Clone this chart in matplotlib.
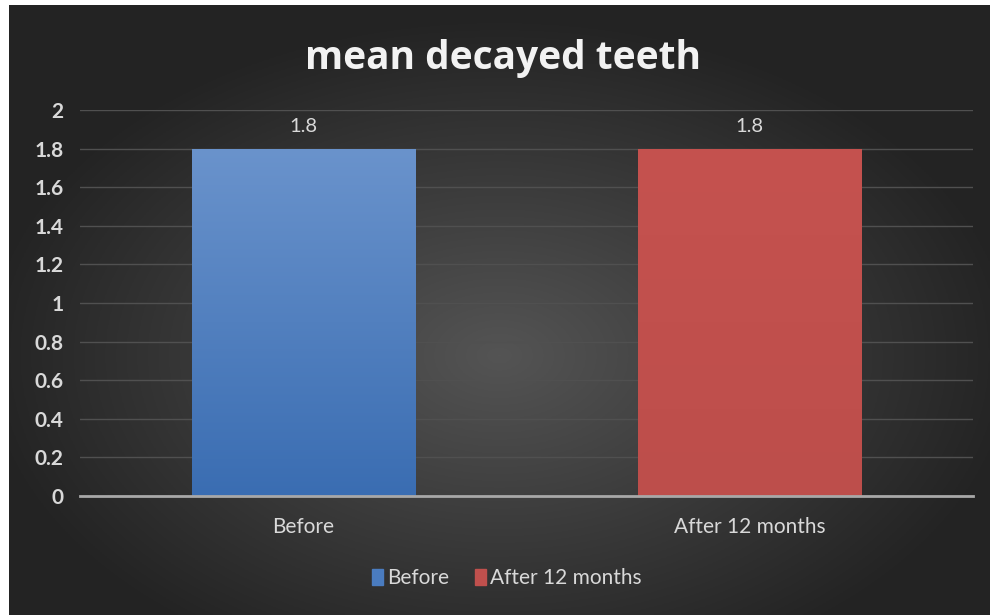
import numpy as np
import matplotlib.pyplot as plt
from matplotlib.patches import Patch

categories = ["Before", "After 12 months"]
values = [1.8, 1.8]
yticks = [0, 0.2, 0.4, 0.6, 0.8, 1, 1.2, 1.4, 1.6, 1.8, 2]
ytick_labels = ["0", "0.2", "0.4", "0.6", "0.8", "1", "1.2", "1.4", "1.6", "1.8", "2"]
title = "mean decayed teeth"

plt.rcParams["font.family"] = ["Lato", "DejaVu Sans"]
txt_col = "#d9d9d9"

fig = plt.figure(figsize=(9.9, 6.15), dpi=100, facecolor="white")

# dark radial background (white strip at top and left like the source image)
bg = fig.add_axes([9 / 990, 0, 981 / 990, 610 / 615])
bg.set_axis_off()
gx, gy = np.meshgrid(np.linspace(-1, 1, 400), np.linspace(-1, 1, 300))
r = np.sqrt((gx / 1.05) ** 2 + ((gy + 0.15) / 1.1) ** 2)
shade = np.clip(0.33 - 0.19 * r, 0.14, 0.33)
bg.imshow(np.dstack([shade] * 3), aspect="auto", extent=[0, 1, 0, 1], origin="lower")
bg.set_xlim(0, 1)
bg.set_ylim(0, 1)

ax = fig.add_axes([80 / 990, 119 / 615, 893 / 990, 386 / 615])
ax.patch.set_alpha(0)
x = np.arange(len(categories))
bars = ax.bar(x, values, width=0.5, color=["#4a7cc0", "#c0504d"], zorder=2)

# vertical gradients clipped to each bar
grads = [("#6a93cc", "#3a6db2"), ("#c5524f", "#bd4e4b")]
for b, (top, bot) in zip(bars, grads):
    t = np.array(plt.matplotlib.colors.to_rgb(top))
    bt = np.array(plt.matplotlib.colors.to_rgb(bot))
    f = np.linspace(0, 1, 256)[:, None]
    img = (bt * (1 - f) + t * f)[:, None, :]
    im = ax.imshow(img, aspect="auto", origin="lower", zorder=3,
                   extent=[b.get_x(), b.get_x() + b.get_width(), 0, b.get_height()])
    im.set_clip_path(b)

for xi, v in zip(x, values):
    ax.annotate(f"{v:g}", (xi, v), xytext=(0, 10), textcoords="offset points",
                ha="center", va="bottom", color=txt_col, fontsize=14.5)

ax.set_xlim(-0.5, 1.5)
ax.set_ylim(0, 2)
ax.set_yticks(yticks)
ax.set_yticklabels(ytick_labels, fontsize=15, fontweight="bold", color=txt_col)
ax.set_xticks(x)
ax.set_xticklabels(categories, fontsize=15, color=txt_col)
ax.tick_params(axis="y", length=0, pad=12)
ax.tick_params(axis="x", length=0, pad=15)
ax.yaxis.grid(True, color="#505050", linewidth=1, zorder=0)
for s in ["top", "right", "left"]:
    ax.spines[s].set_visible(False)
ax.spines["bottom"].set_color("#a8a8a8")
ax.spines["bottom"].set_linewidth(2)
ax.spines["bottom"].set_zorder(4)

fig.text(0.508, 0.905, title, ha="center", va="center", fontsize=28,
         fontweight="bold", color="#f2f2f2", family=["Open Sans", "DejaVu Sans"])

handles = [Patch(color="#4a7cc0"), Patch(color="#c0504d")]
leg = fig.legend(handles, categories, loc="center", bbox_to_anchor=(0.512, 0.06),
                 ncol=2, frameon=False, fontsize=15, handlelength=0.55,
                 handleheight=0.85, handletextpad=0.2, columnspacing=1.2)
for t in leg.get_texts():
    t.set_color(txt_col)

fig.savefig("out.png", dpi=100, facecolor="white")
